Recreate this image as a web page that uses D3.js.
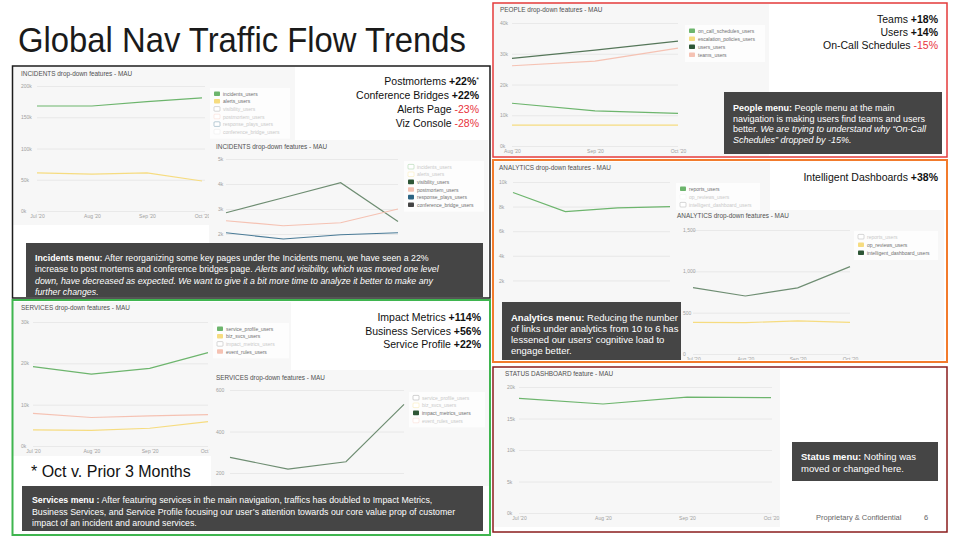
<!DOCTYPE html>
<html>
<head>
<meta charset="utf-8">
<script src="https://cdn.jsdelivr.net/npm/d3@7/dist/d3.min.js"></script>
<style>
body { margin: 0; background: #fff; }
svg { display: block; font-family: "Liberation Sans", Arial, Helvetica, sans-serif; }
.grid line { stroke: #e5e5e5; stroke-width: 0.8; }
.grid text, .xaxis text { fill: #a0a0a0; font-size: 5px; font-family: "Liberation Sans", Arial, sans-serif; }
</style>
</head>
<body>
<svg id="slide" width="980" height="560"></svg>
<script>
// ---- data ----
var months4 = ["Jul '20", "Aug '20", "Sep '20", "Oct '20"];
var months3 = ["Aug '20", "Sep '20", "Oct '20"];

// incidents, MAU in thousands
var incidentsUsers = [168, 168, 175, 181];
var alertsUsers = [61, 59, 61, 48];
var visibilityUsers = [2.85, 3.45, 4.05, 2.5];
var postmortemUsers = [2.53, 2.33, 2.45, 3.0];
var responsePlaysUsers = [2.05, 1.8, 1.97, 2.05];
var conferenceBridgeUsers = [1.0, 1.05, 1.1, 1.28];
var incidentsTicks = [0, 50, 100, 150, 200];
var incidentsInsetTicks = [2, 3, 4, 5];

// services, thousands (impact metrics in users)
var serviceProfileUsers = [19.2, 17.4, 18.8, 22.6];
var bizSvcsUsers = [3.9, 3.8, 4.3, 5.9];
var eventRulesUsers = [7.9, 6.9, 7.3, 7.6];
var impactMetricsUsers = [275, 219, 254, 531];
var servicesTicks = [0, 10, 20, 30];
var servicesInsetTicks = [200, 400, 600];

// people, thousands
var onCallSchedulesUsers = [13.9, 11.4, 10.6];
var escalationPoliciesUsers = [6.8, 6.8, 6.8];
var usersUsers = [28.5, 31.2, 34.1];
var teamsUsers = [26.1, 27.6, 31.8];
var peopleTicks = [0, 10, 20, 30, 40];

// analytics
var reportsUsers = [9.15, 7.6, 7.9, 8.0];          // thousands
var opReviewsUsers = [383, 380, 400, 383];
var intelligentDashboardUsers = [802, 702, 800, 1057];
var analyticsTicks = [2, 4, 6, 8, 10];
var analyticsInsetTicks = [0, 500, 1000, 1500];

// status, thousands
var statusDashboardUsers = [18.2, 17.3, 18.4, 18.3];
var statusTicks = [0, 5, 10, 15, 20];

// ---- colours ----
var GREEN = '#6db56d', YELLOW = '#f6dc80', SALMON = '#f5c2b3';
var DKGREEN = '#2e5636', DKLINE = '#6e8d72', BLUE = '#2c6483', BLUELINE = '#4a7b97';
var CHARCOAL = '#454545', RED = '#e8323c';

var kFmt = function (d) { return d + 'k'; };
var commaFmt = d3.format(',');
var clipId = 0;

var svg = d3.select('#slide');
svg.append('rect').attr('width', 980).attr('height', 560).attr('fill', '#fff');

var drawLegend = function (parent, c) {
    parent.append('rect')
        .attr('x', c.x - 4).attr('y', c.y - 6)
        .attr('width', c.w).attr('height', c.items.length * c.step + 5)
        .attr('fill', '#fdfdfd');
    var g = parent.append('g').attr('transform', 'translate(' + c.x + ',' + c.y + ')');
    c.items.forEach(function (it, i) {
        g.append('rect')
            .attr('x', 0).attr('y', i * c.step - 2.6)
            .attr('width', 6).attr('height', 4.6).attr('rx', 0.8)
            .attr('fill', it.on ? it.legendColor || it.color : '#fff')
            .attr('stroke', it.on ? 'none' : it.color)
            .attr('stroke-opacity', 0.55)
            .attr('stroke-width', 0.6);
        g.append('text')
            .attr('x', 9).attr('y', i * c.step + 1.7)
            .attr('font-size', 5)
            .attr('fill', it.on ? '#707070' : '#c9c9c9')
            .text(it.name);
    });
};

var drawChart = function (c) {
    clipId += 1;
    var id = 'clip' + clipId;
    svg.append('clipPath').attr('id', id).append('rect')
        .attr('x', c.bg[0]).attr('y', c.bg[1]).attr('width', c.bg[2]).attr('height', c.bg[3]);
    var g = svg.append('g').attr('clip-path', 'url(#' + id + ')');
    g.append('rect')
        .attr('x', c.bg[0]).attr('y', c.bg[1]).attr('width', c.bg[2]).attr('height', c.bg[3])
        .attr('fill', '#f7f7f7');
    g.append('text')
        .attr('x', c.titleX).attr('y', c.titleY)
        .attr('font-size', 6.4).attr('fill', '#505050')
        .text(c.title);

    var x = d3.scalePoint().domain(c.months).range([c.x0, c.x1]);
    var y = d3.scaleLinear().domain(c.domain).range([c.yBottom, c.yTop]);

    var grid = g.append('g')
        .attr('class', 'grid')
        .attr('transform', 'translate(' + c.x0 + ',0)')
        .call(d3.axisLeft(y).tickValues(c.ticks).tickSize(-(c.gridEnd - c.x0)).tickFormat(c.fmt));
    grid.select('.domain').remove();
    grid.selectAll('text').attr('text-anchor', 'start').attr('x', c.labelX - c.x0);

    // month labels only where the slide leaves them visible
    if (c.showX) {
        var xa = g.append('g')
            .attr('class', 'xaxis')
            .attr('transform', 'translate(0,' + c.yBottom + ')')
            .call(d3.axisBottom(x).tickSize(0).tickPadding(3));
        xa.select('.domain').remove();
    }

    var line = d3.line()
        .x(function (d, i) { return x(c.months[i]); })
        .y(function (d) { return y(d); });

    c.series.forEach(function (s) {
        if (!s.on || !s.values) return;
        g.append('path')
            .datum(s.values)
            .attr('d', line)
            .attr('fill', 'none')
            .attr('stroke', s.lineColor || s.color)
            .attr('stroke-width', 1.2);
    });

    if (c.legend) {
        c.legend.items = c.series;
        drawLegend(svg, c.legend);
    }
};

var textBlock = function (x, y, lh, size, lines, fill) {
    var t = svg.append('text').attr('x', x).attr('y', y).attr('font-size', size).attr('fill', fill || '#fff');
    lines.forEach(function (segs, i) {
        segs.forEach(function (s, j) {
            var span = t.append('tspan').text(s[0]);
            if (j === 0) span.attr('x', x).attr('dy', i === 0 ? 0 : lh);
            if (s[1] === 'b') span.attr('font-weight', 'bold');
            if (s[1] === 'i') span.attr('font-style', 'italic');
        });
    });
};

var darkBox = function (x, y, w, h) {
    svg.append('rect').attr('x', x).attr('y', y).attr('width', w).attr('height', h).attr('fill', CHARCOAL);
};

var callouts = function (xr, y, lh, rows) {
    rows.forEach(function (r, i) {
        var t = svg.append('text')
            .attr('x', xr).attr('y', y + i * lh)
            .attr('text-anchor', 'end')
            .attr('font-size', 10.5).attr('fill', '#111');
        t.append('tspan').text(r[0] + ' ');
        var p = t.append('tspan').text(r[1]);
        if (r[1].charAt(0) === '-') p.attr('fill', RED);
        else p.attr('font-weight', 'bold');
        if (r[2]) t.append('tspan').attr('font-size', 7).attr('dy', -3).text(r[2]);
    });
};

// ---- title ----
svg.append('text')
    .attr('x', 18).attr('y', 52)
    .attr('font-size', 35).attr('fill', '#1a1a1a')
    .attr('textLength', 448).attr('lengthAdjust', 'spacingAndGlyphs')
    .text('Global Nav Traffic Flow Trends');

// ---- INCIDENTS ----
drawChart({
    bg: [13, 67, 282, 158], title: 'INCIDENTS drop-down features - MAU', titleX: 21, titleY: 76,
    months: months4, x0: 37, x1: 202, gridEnd: 205, labelX: 21, showX: true,
    domain: [0, 200], yBottom: 211, yTop: 86, ticks: incidentsTicks, fmt: kFmt,
    series: [
        { name: 'incidents_users', values: incidentsUsers, color: GREEN, on: true },
        { name: 'alerts_users', values: alertsUsers, color: YELLOW, on: true },
        { name: 'visibility_users', color: '#888', on: false },
        { name: 'postmortem_users', color: SALMON, on: false },
        { name: 'response_plays_users', color: BLUE, on: false },
        { name: 'conference_bridge_users', color: '#ddd', on: false }
    ],
    legend: { x: 214, y: 94, step: 7.6, w: 80 }
});
drawChart({
    bg: [209, 140, 279, 157], title: 'INCIDENTS drop-down features - MAU', titleX: 216, titleY: 149,
    months: months4, x0: 226, x1: 398, gridEnd: 398, labelX: 218, showX: false,
    domain: [0, 5], yBottom: 284, yTop: 159, ticks: incidentsInsetTicks, fmt: kFmt,
    series: [
        { name: 'incidents_users', color: GREEN, on: false },
        { name: 'alerts_users', color: YELLOW, on: false },
        { name: 'visibility_users', values: visibilityUsers, color: DKGREEN, lineColor: DKLINE, on: true },
        { name: 'postmortem_users', values: postmortemUsers, color: SALMON, on: true },
        { name: 'response_plays_users', values: responsePlaysUsers, color: BLUE, lineColor: BLUELINE, on: true },
        { name: 'conference_bridge_users', values: conferenceBridgeUsers, color: '#444', on: true }
    ],
    legend: { x: 408, y: 167, step: 7.6, w: 80 }
});
callouts(479, 85, 14, [
    ['Postmortems', '+22%', '*'],
    ['Conference Bridges', '+22%'],
    ['Alerts Page', '-23%'],
    ['Viz Console', '-28%']
]);
darkBox(26, 243, 457, 54);
textBlock(35, 260.5, 11.5, 8.8, [
    [['Incidents menu:', 'b'], [' After reorganizing some key pages under the Incidents menu, we have seen a 22%']],
    [['increase to post mortems and conference bridges page. '], ['Alerts and visibility, which was moved one level', 'i']],
    [['down, have decreased as expected. We want to give it a bit more time to analyze it better to make any', 'i']],
    [['further changes.', 'i']]
]);

// ---- SERVICES ----
drawChart({
    bg: [13, 302, 278, 154], title: 'SERVICES drop-down features - MAU', titleX: 21, titleY: 310,
    months: months4, x0: 33, x1: 208, gridEnd: 208, labelX: 21, showX: true,
    domain: [0, 30], yBottom: 446, yTop: 322, ticks: servicesTicks, fmt: kFmt,
    series: [
        { name: 'service_profile_users', values: serviceProfileUsers, color: GREEN, on: true },
        { name: 'biz_svcs_users', values: bizSvcsUsers, color: YELLOW, on: true },
        { name: 'impact_metrics_users', color: '#888', on: false },
        { name: 'event_rules_users', values: eventRulesUsers, color: SALMON, on: true }
    ],
    legend: { x: 217, y: 329, step: 7.6, w: 76 }
});
drawChart({
    bg: [210, 370, 279, 116], title: 'SERVICES drop-down features - MAU', titleX: 216, titleY: 380,
    months: months4, x0: 230, x1: 404, gridEnd: 404, labelX: 216, showX: false,
    domain: [0, 600], yBottom: 514.5, yTop: 390, ticks: servicesInsetTicks, fmt: commaFmt,
    series: [
        { name: 'service_profile_users', color: '#777', on: false },
        { name: 'biz_svcs_users', color: YELLOW, on: false },
        { name: 'impact_metrics_users', values: impactMetricsUsers, color: DKGREEN, lineColor: DKLINE, on: true },
        { name: 'event_rules_users', color: SALMON, on: false }
    ],
    legend: { x: 413, y: 398, step: 7.6, w: 76 }
});
callouts(481, 321, 13.5, [
    ['Impact Metrics', '+114%'],
    ['Business Services', '+56%'],
    ['Service Profile', '+22%']
]);
svg.append('rect').attr('x', 13).attr('y', 456).attr('width', 198).attr('height', 30).attr('fill', '#fff');
svg.append('text').attr('x', 31).attr('y', 477).attr('font-size', 16).attr('fill', '#111').text('* Oct v. Prior 3 Months');
darkBox(22, 486, 461, 45);
textBlock(32, 503, 11.5, 8.8, [
    [['Services menu :', 'b'], [' After featuring services in the main navigation, traffics has doubled to Impact Metrics,']],
    [['Business Services, and Service Profile focusing our user\u2019s attention towards our core value prop of customer']],
    [['impact of an incident and around services.']]
]);

// ---- PEOPLE ----
drawChart({
    bg: [494, 4, 275, 152], title: 'PEOPLE drop-down features - MAU', titleX: 500, titleY: 12,
    months: months3, x0: 512, x1: 678, gridEnd: 678, labelX: 500, showX: true,
    domain: [0, 40], yBottom: 146, yTop: 23, ticks: peopleTicks, fmt: kFmt,
    series: [
        { name: 'on_call_schedules_users', values: onCallSchedulesUsers, color: GREEN, on: true },
        { name: 'escalation_policies_users', values: escalationPoliciesUsers, color: YELLOW, on: true },
        { name: 'users_users', values: usersUsers, color: DKGREEN, lineColor: '#557659', on: true },
        { name: 'teams_users', values: teamsUsers, color: SALMON, on: true }
    ],
    legend: { x: 689, y: 31, step: 8, w: 80 }
});
callouts(938, 23, 13, [
    ['Teams', '+18%'],
    ['Users', '+14%'],
    ['On-Call Schedules', '-15%']
]);
darkBox(724, 92, 218, 62);
textBlock(733, 111, 10.5, 9, [
    [['People menu:', 'b'], [' People menu at the main']],
    [['navigation is making users find teams and users']],
    [['better. '], ['We are trying to understand why \u201COn-Call', 'i']],
    [['Schedules\u201D dropped by -15%.', 'i']]
]);

// ---- ANALYTICS ----
drawChart({
    bg: [494, 162, 276, 198], title: 'ANALYTICS drop-down features - MAU', titleX: 499, titleY: 170,
    months: months4, x0: 513, x1: 670, gridEnd: 670, labelX: 499, showX: false,
    domain: [0, 10], yBottom: 305, yTop: 182, ticks: analyticsTicks, fmt: kFmt,
    series: [
        { name: 'reports_users', values: reportsUsers, color: GREEN, on: true },
        { name: 'op_reviews_users', color: '#e8e8e8', on: false },
        { name: 'intelligent_dashboard_users', color: '#888', on: false }
    ],
    legend: { x: 680, y: 189, step: 8, w: 84 }
});
drawChart({
    bg: [673, 210, 271, 150], title: 'ANALYTICS drop-down features - MAU', titleX: 677, titleY: 218,
    months: months4, x0: 693, x1: 850, gridEnd: 850, labelX: 683, showX: true,
    domain: [0, 1500], yBottom: 354, yTop: 230, ticks: analyticsInsetTicks, fmt: commaFmt,
    series: [
        { name: 'reports_users', color: '#888', on: false },
        { name: 'op_reviews_users', values: opReviewsUsers, color: YELLOW, on: true },
        { name: 'intelligent_dashboard_users', values: intelligentDashboardUsers, color: DKGREEN, lineColor: DKLINE, on: true }
    ],
    legend: { x: 858, y: 237, step: 8, w: 84 }
});
callouts(938, 181, 13, [
    ['Intelligent Dashboards', '+38%']
]);
darkBox(502, 302, 179, 58);
textBlock(511, 320.5, 11.3, 9.5, [
    [['Analytics menu:', 'b'], [' Reducing the number']],
    [['of links under analytics from 10 to 6 has']],
    [['lessened our users\u2019 cognitive load to']],
    [['engage better.']]
]);

// ---- STATUS ----
drawChart({
    bg: [494, 369, 286, 158], title: 'STATUS DASHBOARD feature - MAU', titleX: 505, titleY: 376,
    months: months4, x0: 519, x1: 771, gridEnd: 772, labelX: 507, showX: true,
    domain: [0, 20], yBottom: 513, yTop: 387, ticks: statusTicks, fmt: kFmt,
    series: [
        { name: 'status_dashboard_users', values: statusDashboardUsers, color: GREEN, on: true }
    ]
});
darkBox(792, 442, 146, 39);
textBlock(801, 460, 11.5, 9.5, [
    [['Status menu:', 'b'], [' Nothing was']],
    [['moved or changed here.']]
]);
svg.append('text').attr('x', 816).attr('y', 520).attr('font-size', 7.5).attr('fill', '#666').text('Proprietary & Confidential');
svg.append('text').attr('x', 924).attr('y', 520).attr('font-size', 7.5).attr('fill', '#666').text('6');

// ---- panel borders ----
var panels = [
    [12.5, 66, 477.5, 232, '#1c1c1c', 1.5],
    [12.5, 300, 477.5, 235, '#3fb54f', 2],
    [493, 3, 454, 154, '#e43a3a', 1.5],
    [493, 160, 454, 202, '#f27b2c', 2],
    [493, 367, 454, 165, '#8a1c1c', 1.5]
];
panels.forEach(function (p) {
    svg.append('rect')
        .attr('x', p[0]).attr('y', p[1]).attr('width', p[2]).attr('height', p[3])
        .attr('fill', 'none').attr('stroke', p[4]).attr('stroke-width', p[5]);
});
</script>
</body>
</html>
